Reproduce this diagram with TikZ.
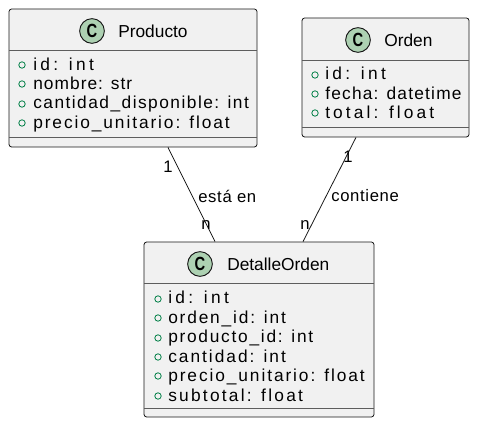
\documentclass[tikz,border=0pt]{standalone}
\usepackage{fontspec}
\setmainfont{Liberation Sans}
\newcommand{\lsp}[2]{{\addfontfeature{LetterSpace=#1}#2}}
\definecolor{boxfill}{HTML}{F1F1F1}
\definecolor{boxline}{HTML}{181818}
\definecolor{circfill}{HTML}{ADD1B2}
\definecolor{attrgreen}{HTML}{038048}
\begin{document}
\begin{tikzpicture}[x=0.75pt,y=-0.75pt,
  classbox/.style={draw=boxline,fill=boxfill,line width=0.6pt,rounded corners=2pt,inner sep=0pt},
  sepline/.style={draw=boxline!70,line width=0.6pt},
  cmark/.style={circle,draw=boxline,fill=circfill,line width=0.7pt,minimum size=18.5pt,inner sep=0pt,font=\fontsize{13}{15}\selectfont\bfseries},
  title/.style={anchor=west,inner sep=0pt,font=\fontsize{13}{15}\selectfont},
  attr/.style={anchor=base west,inner sep=0pt,font=\fontsize{13}{15}\selectfont},
  vis/.style={circle,draw=attrgreen,line width=0.6pt,minimum size=4.8pt,inner sep=0pt},
  conn/.style={draw=boxline,line width=0.6pt},
  lab/.style={inner sep=0pt,font=\fontsize{12.5}{14}\selectfont}]
\useasboundingbox (0,0) rectangle (478,427);
% Producto
\node[classbox,minimum width=186pt,minimum height=103.5pt] (prod) at (133,78) {};
\node[cmark] (prodc) at (92,31) {\scalebox{0.85}[1.1]{C}};
\node[title] (prodt) at (118,31) {Producto};
\draw[sepline] (9,50) -- (257,50);
\draw[sepline] (9,137) -- (257,137);
\node[vis] (pv1) at (22,65) {};
\node[vis] (pv2) at (22,84) {};
\node[vis] (pv3) at (22,104) {};
\node[vis] (pv4) at (22,123) {};
\node[attr] (pa1) at (33,70.5) {\lsp{19}{id: int}};
\node[attr] (pa2) at (33,89.5) {\lsp{6}{nombre: str}};
\node[attr] (pa3) at (33,109) {\lsp{8.5}{cantidad\_disponible: int}};
\node[attr] (pa4) at (33,128.5) {\lsp{11}{precio\_unitario: float}};
% Orden
\node[classbox,minimum width=125.25pt,minimum height=89.25pt] (ord) at (385.5,77.5) {};
\node[cmark] (ordc) at (358,40) {\scalebox{0.85}[1.1]{C}};
\node[title] (ordt) at (384,40) {Orden};
\draw[sepline] (302,60) -- (469,60);
\draw[sepline] (302,127) -- (469,127);
\node[vis] (ov1) at (315,75) {};
\node[vis] (ov2) at (315,94) {};
\node[vis] (ov3) at (315,113) {};
\node[attr] (oa1) at (325,80) {\lsp{19}{id: int}};
\node[attr] (oa2) at (325,99.5) {\lsp{7}{fecha: datetime}};
\node[attr] (oa3) at (325,118.5) {\lsp{18}{total: float}};
% DetalleOrden
\node[classbox,minimum width=172.5pt,minimum height=131.25pt] (det) at (259,329.5) {};
\node[cmark] (detc) at (200,264) {\scalebox{0.85}[1.1]{C}};
\node[title] (dett) at (227,264) {DetalleOrden};
\draw[sepline] (144,283) -- (374,283);
\draw[sepline] (144,408) -- (374,408);
\node[vis] (dv1) at (158,299) {};
\node[vis] (dv2) at (158,318) {};
\node[vis] (dv3) at (158,338) {};
\node[vis] (dv4) at (158,357) {};
\node[vis] (dv5) at (158,376) {};
\node[vis] (dv6) at (158,396) {};
\node[attr] (da1) at (168,304) {\lsp{19}{id: int}};
\node[attr] (da2) at (168,323.5) {\lsp{10.5}{orden\_id: int}};
\node[attr] (da3) at (168,343) {\lsp{10}{producto\_id: int}};
\node[attr] (da4) at (168,362.5) {\lsp{11.5}{cantidad: int}};
\node[attr] (da5) at (168,382) {\lsp{11}{precio\_unitario: float}};
\node[attr] (da6) at (168,401.5) {\lsp{13}{subtotal: float}};
% connectors
\draw[conn] ([xshift=26.25pt]prod.south) -- ([xshift=-33pt]det.north);
\draw[conn] ([xshift=-22.125pt]ord.south) -- ([xshift=33pt]det.north);
\node[lab] (l1) at (168,167) {1};
\node[lab,anchor=west] (l2) at (198,196) {\lsp{4}{está en}};
\node[lab] (l3) at (206,225) {n};
\node[lab] (l4) at (348,157) {1};
\node[lab,anchor=west] (l5) at (331,196) {\lsp{4}{contiene}};
\node[lab] (l6) at (305,225) {n};
\end{tikzpicture}
\end{document}
